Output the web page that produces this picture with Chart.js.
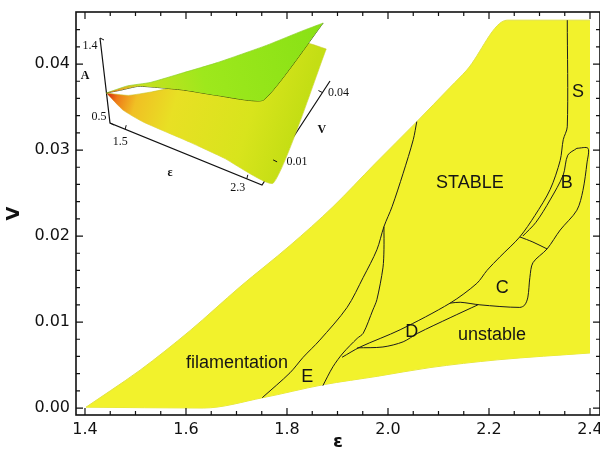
<!DOCTYPE html>
<html lang="en">
<head>
<meta charset="UTF-8">
<title>Stability diagram V vs epsilon</title>
<script src="https://cdn.jsdelivr.net/npm/chart.js@4"></script>
<style>
    body { margin: 0; background: #fff; }
    .wrap { position: relative; width: 600px; height: 454px; }
    .wrap canvas { position: absolute; left: 0; top: 0; }
    #inset { pointer-events: none; }
</style>
</head>
<body>
<div class="wrap">
    <canvas id="main" width="600" height="454"></canvas>
    <canvas id="inset" width="600" height="454"></canvas>
</div>
<script>
// axis ticks
const epsTicks = [1.4, 1.6, 1.8, 2.0, 2.2, 2.4];
const vTicks = [0.00, 0.01, 0.02, 0.03, 0.04];

// outer boundary of the domain (upper/left edge and lower edge)
const upperEps = [1.402, 1.45, 1.509, 1.608, 1.707, 1.806, 1.891, 1.974, 2.057, 2.123, 2.156, 2.236, 2.400];
const upperV   = [0.0001, 0.0020, 0.0044, 0.0090, 0.0141, 0.0189, 0.0234, 0.0284, 0.0333, 0.0373, 0.0393, 0.0451, 0.0451];
const lowerEps = [1.402, 1.634, 1.752, 1.871, 1.980, 2.083, 2.216, 2.400];
const lowerV   = [0.0001, 0.0000, 0.0012, 0.0027, 0.0037, 0.0047, 0.0056, 0.0064];

// inner boundaries
const eLeftEps  = [2.057, 2.050, 2.030, 2.008, 1.992, 1.978, 1.951, 1.919, 1.865, 1.832, 1.806, 1.751];
const eLeftV    = [0.0333, 0.0312, 0.0273, 0.0234, 0.0211, 0.0184, 0.0152, 0.0117, 0.0079, 0.0059, 0.0041, 0.0012];
const eRightEps = [1.992, 1.992, 1.990, 1.978, 1.970, 1.951, 1.939, 1.911, 1.891, 1.871];
const eRightV   = [0.0211, 0.0184, 0.0163, 0.0126, 0.0114, 0.0087, 0.0081, 0.0064, 0.0048, 0.0026];
const sEps = [1.909, 1.945, 2.024, 2.123, 2.176, 2.196, 2.222, 2.261, 2.291, 2.321, 2.341, 2.347, 2.355, 2.355];
const sV   = [0.0059, 0.0071, 0.0091, 0.0122, 0.0145, 0.0160, 0.0176, 0.0199, 0.0224, 0.0254, 0.0288, 0.0312, 0.0327, 0.0451];
const bLeftEps = [2.374, 2.356, 2.347, 2.321, 2.293, 2.267];
const bLeftV   = [0.0302, 0.0294, 0.0271, 0.0242, 0.0216, 0.0200];
const crossEps = [2.261, 2.287, 2.315];
const crossV   = [0.0199, 0.0193, 0.0185];
const bcEps = [2.374, 2.396, 2.394, 2.386, 2.374, 2.341, 2.315, 2.287, 2.281, 2.277, 2.271, 2.261, 2.182, 2.143, 2.123];
const bcV   = [0.0302, 0.0302, 0.0285, 0.0253, 0.0230, 0.0207, 0.0185, 0.0169, 0.0152, 0.0129, 0.0120, 0.0117, 0.0120, 0.0123, 0.0122];
const dLowEps = [2.178, 2.123, 2.059, 2.030, 1.990, 1.939];
const dLowV   = [0.0120, 0.0105, 0.0087, 0.0077, 0.0071, 0.0070];

// region names
const regionNames = ['STABLE', 'S', 'B', 'C', 'D', 'unstable', 'E', 'filamentation'];
const regionEps   = [2.162, 2.376, 2.354, 2.226, 2.047, 2.206, 1.840, 1.701];
const regionV     = [0.0262, 0.0367, 0.0262, 0.0140, 0.0088, 0.0085, 0.0036, 0.0052];

// inset: two sheets A(eps, V) over the domain outline
const topChainEps = [1.40, 1.50, 1.60, 1.75, 1.90, 2.10, 2.24, 2.40];
const topChainV   = [0, 0.004, 0.009, 0.016, 0.0236, 0.036, 0.045, 0.045];
const botChainEps = [1.40, 1.50, 1.63, 1.90, 2.10, 2.40, 2.40];
const botChainV   = [0, 0, 0, 0.0028, 0.0048, 0.0065, 0.045];
const upperSheetTopA = [0.818, 0.86, 0.84, 0.87, 0.89, 0.90, 0.92, 1.114];
const upperSheetBotA = [0.818, 0.913, 1.04, 1.109, 1.135, 1.241, 1.114];
const lowerSheetTopA = [0.818, 0.76, 0.74, 0.74, 0.75, 0.77, 0.807, 0.839];
const lowerSheetBotA = [0.818, 0.703, 0.662, 0.558, 0.471, 0.362, 0.839];

const zip = (xs, ys) => xs.map((x, i) => ({ x: x, y: ys[i] }));

const lineSet = (xs, ys) => ({
    data: zip(xs, ys),
    borderColor: '#1c1c1c',
    borderWidth: 1,
    pointRadius: 0,
    tension: 0.3,
    fill: false,
    order: 0
});

const yellow = 'rgb(242,242,44)';
const edge = 'rgb(226,226,66)';

// frame with inward ticks on all four sides
const frameTicks = {
    id: 'frameTicks',
    afterDraw(chart) {
        const { ctx, chartArea: a, scales: { x, y } } = chart;
        ctx.save();
        ctx.strokeStyle = '#111';
        ctx.lineWidth = 1.6;
        ctx.strokeRect(a.left, a.top, a.right - a.left, a.bottom - a.top);
        ctx.lineWidth = 1.2;
        ctx.beginPath();
        for (let i = 0; i <= 20; i++) {
            const px = x.getPixelForValue(1.4 + i * 0.05);
            const len = i % 4 === 0 ? 7 : 4;
            ctx.moveTo(px, a.bottom); ctx.lineTo(px, a.bottom - len);
            ctx.moveTo(px, a.top); ctx.lineTo(px, a.top + len);
        }
        for (let i = 0; i <= 22; i++) {
            const py = y.getPixelForValue(i * 0.002);
            const len = i % 5 === 0 ? 7 : 4;
            ctx.moveTo(a.left, py); ctx.lineTo(a.left + len, py);
            ctx.moveTo(a.right, py); ctx.lineTo(a.right - len, py);
        }
        ctx.stroke();
        ctx.restore();
    }
};

const regionLabels = {
    id: 'regionLabels',
    afterDatasetsDraw(chart) {
        const { ctx, scales: { x, y } } = chart;
        ctx.save();
        ctx.font = '18px "Liberation Sans", Arial, sans-serif';
        ctx.fillStyle = '#151515';
        ctx.textAlign = 'center';
        ctx.textBaseline = 'middle';
        regionNames.forEach((t, i) => {
            ctx.fillText(t, x.getPixelForValue(regionEps[i]), y.getPixelForValue(regionV[i]));
        });
        ctx.restore();
    }
};

const tickFont = { family: '"DejaVu Sans", sans-serif', size: 16 };

new Chart(document.getElementById('main'), {
    type: 'line',
    data: {
        datasets: [
            { data: zip(upperEps, upperV), fill: '+1', backgroundColor: yellow, borderColor: edge,
              borderWidth: 1, pointRadius: 0, cubicInterpolationMode: 'monotone', order: 10 },
            { data: zip(lowerEps, lowerV), fill: false, borderColor: edge,
              borderWidth: 1, pointRadius: 0, cubicInterpolationMode: 'monotone', order: 10 },
            lineSet(eLeftEps, eLeftV),
            lineSet(eRightEps, eRightV),
            lineSet(sEps, sV),
            lineSet(bLeftEps, bLeftV),
            lineSet(crossEps, crossV),
            lineSet(bcEps, bcV),
            lineSet(dLowEps, dLowV)
        ]
    },
    options: {
        responsive: false,
        animation: false,
        layout: { padding: { top: 12, left: 0, right: 0, bottom: 0 }, autoPadding: false },
        plugins: { legend: { display: false }, tooltip: { enabled: false } },
        scales: {
            x: {
                type: 'linear', min: 1.3822, max: 2.4198,
                grid: { display: false, drawTicks: false }, border: { display: false },
                afterBuildTicks: s => { s.ticks = epsTicks.map(v => ({ value: v })); },
                afterFit: s => { s.height = 39; s.paddingLeft = 0; s.paddingRight = 0; },
                ticks: { font: tickFont, color: '#111', padding: 5, maxRotation: 0, autoSkip: false,
                         callback: v => v.toFixed(1) },
                title: { display: true, text: 'ε', color: '#111',
                         font: { family: '"DejaVu Sans", sans-serif', size: 18, weight: 'bold' },
                         padding: { top: 0, bottom: 1 } }
            },
            y: {
                type: 'linear', min: -0.00081, max: 0.04605,
                grid: { display: false, drawTicks: false }, border: { display: false },
                afterBuildTicks: s => { s.ticks = vTicks.map(v => ({ value: v })); },
                afterFit: s => { s.width = 76; s.paddingTop = 0; s.paddingBottom = 0; },
                ticks: { font: tickFont, color: '#111', padding: 6, autoSkip: false,
                         callback: v => v.toFixed(2) },
                title: { display: true, text: 'V', color: '#111',
                         font: { family: '"DejaVu Sans", sans-serif', size: 18, weight: 'bold' },
                         padding: { top: 4, bottom: 0 } }
            }
        }
    },
    plugins: [frameTicks, regionLabels]
});

// ---- inset: oblique projection of the two sheets ----
function proj(e, v, a) {
    return {
        x: 110 + (e - 1.4) * 152 + (v / 0.045) * 68 - (a - 0.5) / 0.9 * 10,
        y: 123 + (e - 1.4) * 62 - (v / 0.045) * 104 - (a - 0.5) / 0.9 * 85
    };
}
const chain = (es, vs, as) => es.map((e, i) => proj(e, vs[i], as[i]));

const insetText = [
    { t: '1.4', p: [1.4, 0, 1.4], dx: -10, dy: 8 },
    { t: 'A', p: [1.4, 0, 0.95], dx: -20, dy: -5, bold: true },
    { t: '0.5', p: [1.4, 0, 0.5], dx: -11, dy: -6 },
    { t: '1.5', p: [1.5, 0, 0.5], dx: -5, dy: 13 },
    { t: 'ε', p: [1.9, 0, 0.5], dx: -16, dy: 19, bold: true },
    { t: '2.3', p: [2.3, 0, 0.5], dx: -9, dy: 9 },
    { t: '0.01', p: [2.4, 0.01, 0.5], dx: 20, dy: 0 },
    { t: 'V', p: [2.4, 0.025, 0.5], dx: 22, dy: 3, bold: true },
    { t: '0.04', p: [2.4, 0.04, 0.5], dx: 16, dy: 0 }
];

const insetLabels = {
    id: 'insetLabels',
    afterDatasetsDraw(chart) {
        const { ctx } = chart;
        ctx.save();
        ctx.fillStyle = '#111';
        ctx.textAlign = 'center';
        ctx.textBaseline = 'middle';
        insetText.forEach(l => {
            const q = proj(l.p[0], l.p[1], l.p[2]);
            ctx.font = (l.bold ? 'bold 12px' : '12px') + ' "Liberation Serif", serif';
            ctx.fillText(l.t, q.x + l.dx, q.y + l.dy);
        });
        // small tick marks on the three axes
        ctx.strokeStyle = '#111';
        ctx.lineWidth = 1;
        ctx.beginPath();
        [[1.4, 0, 1.4], [1.4, 0, 0.5]].forEach(p => { const q = proj(...p); ctx.moveTo(q.x, q.y); ctx.lineTo(q.x + 4, q.y + 2); });
        [[1.5, 0, 0.5], [2.3, 0, 0.5]].forEach(p => { const q = proj(...p); ctx.moveTo(q.x, q.y); ctx.lineTo(q.x + 1, q.y - 4); });
        [[2.4, 0.01, 0.5], [2.4, 0.04, 0.5]].forEach(p => { const q = proj(...p); ctx.moveTo(q.x, q.y); ctx.lineTo(q.x - 4, q.y - 2); });
        ctx.stroke();
        ctx.restore();
    }
};

function yellowGrad(c) {
    const g = c.chart.ctx.createLinearGradient(108, 95, 290, 150);
    g.addColorStop(0, '#d83010');
    g.addColorStop(0.05, '#ee7a18');
    g.addColorStop(0.15, '#f0c024');
    g.addColorStop(0.35, '#e8e024');
    g.addColorStop(0.75, '#d8e41c');
    g.addColorStop(1, '#c4de14');
    return g;
}
function greenGrad(c) {
    const g = c.chart.ctx.createLinearGradient(108, 92, 337, 23);
    g.addColorStop(0, '#e85a10');
    g.addColorStop(0.05, '#e8a020');
    g.addColorStop(0.14, '#c8e020');
    g.addColorStop(0.4, '#9ee81c');
    g.addColorStop(1, '#86e014');
    return g;
}

new Chart(document.getElementById('inset'), {
    type: 'line',
    data: {
        datasets: [
            { data: chain(topChainEps, topChainV, upperSheetTopA), fill: '+1', backgroundColor: greenGrad,
              borderColor: 'rgba(140,210,40,0.7)', borderWidth: 1, pointRadius: 0, tension: 0.15, order: 1 },
            { data: chain(botChainEps, botChainV, upperSheetBotA), fill: false,
              borderColor: 'rgba(40,60,10,0.85)', borderWidth: 1, pointRadius: 0, tension: 0.15, order: 1 },
            { data: chain(topChainEps, topChainV, lowerSheetTopA), fill: '+1', backgroundColor: yellowGrad,
              borderColor: 'rgba(200,200,40,0.6)', borderWidth: 1, pointRadius: 0, tension: 0.15, order: 2 },
            { data: chain(botChainEps, botChainV, lowerSheetBotA), fill: false,
              borderColor: 'rgba(200,200,40,0.6)', borderWidth: 1, pointRadius: 0, tension: 0.15, order: 2 },
            { data: [proj(1.4, 0, 1.4), proj(1.4, 0, 0.5), proj(2.4, 0, 0.5), proj(2.4, 0.045, 0.5)],
              fill: false, borderColor: '#111', borderWidth: 1.2, pointRadius: 0, tension: 0, order: 3 }
        ]
    },
    options: {
        responsive: false,
        animation: false,
        layout: { padding: 0, autoPadding: false },
        plugins: { legend: { display: false }, tooltip: { enabled: false } },
        scales: {
            x: { type: 'linear', display: false, min: 0, max: 600 },
            y: { type: 'linear', display: false, min: 0, max: 454, reverse: true }
        }
    },
    plugins: [insetLabels]
});
</script>
</body>
</html>
